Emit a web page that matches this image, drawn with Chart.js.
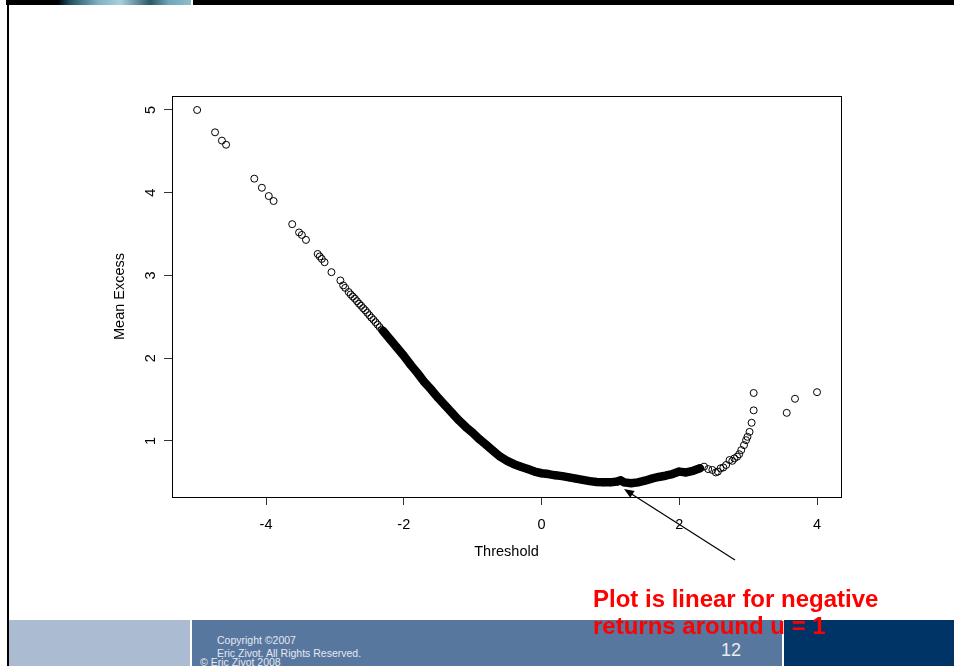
<!DOCTYPE html>
<html>
<head>
<meta charset="utf-8">
<script src="https://cdn.jsdelivr.net/npm/chart.js@4.4.1/dist/chart.umd.min.js"></script>
<style>
  html, body { margin: 0; padding: 0; background: #fff; }
  #page { position: relative; width: 954px; height: 666px; overflow: hidden; font-family: "Liberation Sans", Arial, sans-serif; }
  #chart { position: absolute; left: 0; top: 0; }
  .topbar { position: absolute; left: 6px; top: 0; width: 948px; height: 5px; background: #000; }
  .topimg { position: absolute; left: 6px; top: 0; width: 185px; height: 5px;
    background: linear-gradient(90deg, #000 0%, #000 28%, #1d4c5c 34%, #7fb2c4 50%, #a9cfdc 62%, #2c5868 78%, #6ea6bc 88%, #8fbccc 100%); }
  .topgap { position: absolute; left: 191px; top: 0; width: 2px; height: 5px; background: #fff; }
  .leftline { position: absolute; left: 7px; top: 5px; width: 2px; height: 661px; background: #000; }
  .foot1 { position: absolute; left: 9px; top: 620px; width: 181px; height: 46px; background: #abbcd2; }
  .foot2 { position: absolute; left: 192px; top: 620px; width: 590px; height: 46px; background: #58779f; }
  .foot3 { position: absolute; left: 784px; top: 620px; width: 170px; height: 46px; background: #003466; }
  .copy { position: absolute; left: 217px; top: 634px; font-size: 10.5px; line-height: 13px; color: #e4e9f1; white-space: nowrap; }
  .copy2 { position: absolute; left: 200px; top: 656px; font-size: 10.5px; line-height: 12px; color: #e4e9f1; white-space: nowrap; }
  .pageno { position: absolute; left: 721px; top: 640px; font-size: 18px; line-height: 20px; color: #e8edf4; }
  .note { position: absolute; left: 593px; top: 585px; font-size: 24px; font-weight: bold; line-height: 27px; color: #ff0000; white-space: nowrap; }
  svg { position: absolute; left: 0; top: 0; }
</style>
</head>
<body>
<div id="page">
  <div class="topbar"></div>
  <div class="topimg"></div>
  <div class="topgap"></div>
  <div class="leftline"></div>
  <div class="foot1"></div>
  <div class="foot2"></div>
  <div class="foot3"></div>
  <div class="copy">Copyright ©2007<br>Eric Zivot. All Rights Reserved.</div>
  <div class="copy2">© Eric Zivot 2008</div>
  <div class="pageno">12</div>
  <canvas id="chart" width="954" height="666"></canvas>
  <svg width="954" height="666">
    <line x1="735" y1="560" x2="630" y2="493" stroke="#000" stroke-width="1.2"/>
    <polygon points="624,489 634.6,491.0 630.3,497.8" fill="#000"/>
  </svg>
  <div class="note">Plot is linear for negative<br>returns around u = 1</div>
</div>
<script>
// axis ticks
const xTicks = [-4, -2, 0, 2, 4];
const yTicks = [1, 2, 3, 4, 5];

// sparse points on the far left
const leftTailX = [-5.00, -4.74, -4.64, -4.58, -4.17, -4.06, -3.96, -3.89, -3.62, -3.52, -3.48, -3.42, -3.25, -3.22, -3.19, -3.15, -3.05, -2.92, -2.88, -2.85];
const leftTailY = [5.00, 4.73, 4.63, 4.58, 4.17, 4.06, 3.96, 3.90, 3.62, 3.52, 3.49, 3.43, 3.26, 3.23, 3.20, 3.16, 3.04, 2.94, 2.88, 2.85];

// chain of overlapping circles before the band gets solid
const chainX = [-2.80, -2.77, -2.74, -2.71, -2.68, -2.65, -2.62, -2.59, -2.56, -2.53, -2.50, -2.47, -2.44, -2.41, -2.38, -2.35, -2.32];
const chainY = [2.80, 2.77, 2.745, 2.72, 2.69, 2.66, 2.635, 2.605, 2.58, 2.55, 2.52, 2.49, 2.465, 2.435, 2.405, 2.375, 2.345];

// dense band (thousands of thresholds in the original)
const bandX = [-2.3, -2.2, -2.1, -2.0, -1.9, -1.8, -1.7, -1.6, -1.5, -1.4, -1.3, -1.2, -1.1, -1.0, -0.9, -0.8, -0.7, -0.6, -0.5, -0.4, -0.3, -0.2, -0.1, 0.0,
  0.1, 0.2, 0.3, 0.4, 0.5, 0.6, 0.7, 0.8, 0.9, 1.0, 1.1, 1.15, 1.2, 1.3, 1.4, 1.5, 1.6, 1.7, 1.8, 1.9, 2.0, 2.1, 2.2, 2.3];
const bandY = [2.33, 2.23, 2.13, 2.03, 1.92, 1.82, 1.71, 1.62, 1.52, 1.43, 1.34, 1.25, 1.17, 1.10, 1.02, 0.95, 0.88, 0.81, 0.76, 0.72, 0.69, 0.66, 0.63, 0.61,
  0.60, 0.585, 0.575, 0.56, 0.545, 0.53, 0.515, 0.505, 0.50, 0.50, 0.51, 0.525, 0.50, 0.49, 0.50, 0.52, 0.545, 0.565, 0.58, 0.60, 0.63, 0.62, 0.64, 0.67];

// sparse points on the right
const rightTailX = [2.36, 2.42, 2.48, 2.53, 2.56, 2.60, 2.64, 2.68, 2.73, 2.77, 2.80, 2.84, 2.87, 2.90, 2.94, 2.97, 2.99, 3.02, 3.05, 3.08, 3.08, 3.56, 3.68, 4.00];
const rightTailY = [0.69, 0.66, 0.65, 0.62, 0.63, 0.67, 0.68, 0.71, 0.77, 0.76, 0.79, 0.81, 0.84, 0.89, 0.95, 1.01, 1.05, 1.11, 1.22, 1.37, 1.58, 1.34, 1.51, 1.59];

const pts = (xs, ys) => xs.map((x, i) => ({ x: x, y: ys[i] }));

const circle = {
  pointStyle: "circle",
  pointRadius: 3.5,
  pointHoverRadius: 3.5,
  pointBorderWidth: 1,
  pointBorderColor: "#000",
  pointBackgroundColor: "rgba(0,0,0,0)",
};

const FONT = "Liberation Sans";

// box around the plot (R style)
const boxPlugin = {
  id: "box",
  afterDraw(chart) {
    const a = chart.chartArea;
    const ctx = chart.ctx;
    ctx.save();
    ctx.strokeStyle = "#000";
    ctx.lineWidth = 1;
    ctx.strokeRect(Math.round(a.left) + 0.5, Math.round(a.top) + 0.5, Math.round(a.right - a.left), Math.round(a.bottom - a.top));
    ctx.restore();
  },
};

// rotated y tick labels
const yLabelPlugin = {
  id: "yLabels",
  afterDraw(chart) {
    const s = chart.scales.y;
    const ctx = chart.ctx;
    ctx.save();
    ctx.font = "14.5px '" + FONT + "'";
    ctx.fillStyle = "#000";
    ctx.textAlign = "center";
    ctx.textBaseline = "middle";
    s.ticks.forEach((t) => {
      const py = s.getPixelForValue(t.value);
      ctx.save();
      ctx.translate(s.right - 21, py);
      ctx.rotate(-Math.PI / 2);
      ctx.fillText(String(t.value), 0, 0);
      ctx.restore();
    });
    ctx.restore();
  },
};

const config = {
  type: "scatter",
  data: {
    datasets: [
      { data: pts(leftTailX, leftTailY), ...circle },
      { data: pts(chainX, chainY), ...circle },
      { data: pts(bandX, bandY), ...circle, showLine: true, borderColor: "#000", borderWidth: 8.5, borderCapStyle: "round", borderJoinStyle: "round", tension: 0 },
      { data: pts(rightTailX, rightTailY), ...circle },
    ],
  },
  options: {
    responsive: false,
    animation: false,
    layout: { padding: { top: 96, right: 113, left: 0, bottom: 0 } },
    plugins: { legend: { display: false }, tooltip: { enabled: false } },
    scales: {
      x: {
        type: "linear",
        min: -5.365,
        max: 4.348,
        afterBuildTicks: (s) => { s.ticks = xTicks.map((v) => ({ value: v })); },
        afterFit: (s) => { s.height = 169; },
        grid: { drawOnChartArea: false, drawTicks: true, tickLength: 8, color: "#333" },
        border: { display: true, color: "#000" },
        ticks: { padding: 11, color: "#000", font: { family: FONT, size: 14.5 } },
        title: { display: true, text: "Threshold", color: "#000", font: { family: FONT, size: 14.5 }, padding: { top: 0, bottom: 105 } },
      },
      y: {
        type: "linear",
        min: 0.323,
        max: 5.169,
        afterBuildTicks: (s) => { s.ticks = yTicks.map((v) => ({ value: v })); },
        afterFit: (s) => { s.width = 172; },
        grid: { drawOnChartArea: false, drawTicks: true, tickLength: 8, color: "#333" },
        border: { display: true, color: "#000" },
        ticks: { display: false },
        title: { display: true, text: "Mean Excess", color: "#000", font: { family: FONT, size: 14.5 }, padding: { top: 111, bottom: 0 } },
      },
    },
  },
  plugins: [boxPlugin, yLabelPlugin],
};

const meanExcessChart = new Chart(document.getElementById("chart"), config);
</script>
</body>
</html>
